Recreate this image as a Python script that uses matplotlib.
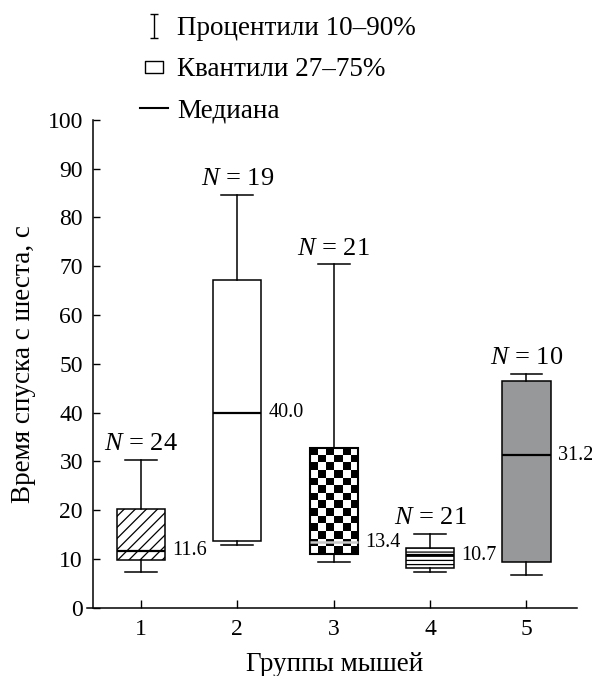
import numpy as np
import matplotlib
matplotlib.use('Agg')
import matplotlib.pyplot as plt
from matplotlib.lines import Line2D
from matplotlib.path import Path

plt.rcParams['font.family'] = ['Liberation Serif', 'DejaVu Serif']
plt.rcParams['mathtext.fontset'] = 'custom'
plt.rcParams['mathtext.rm'] = 'Liberation Serif'
plt.rcParams['mathtext.it'] = 'Liberation Serif:italic'
plt.rcParams['hatch.linewidth'] = 0.9

# data
groups = [1, 2, 3, 4, 5]
p10 = [7.3, 12.9, 9.3, 7.3, 6.6]
q_low = [9.8, 13.7, 10.9, 8.1, 9.3]
medians = [11.6, 40.0, 13.4, 10.7, 31.2]
q_high = [20.2, 67.2, 32.8, 12.2, 46.5]
p90 = [30.3, 84.6, 70.4, 15.1, 47.9]
n_mice = [24, 19, 21, 21, 10]

legend_labels = ['Процентили 10–90%', 'Квантили 27–75%', 'Медиана']

fig = plt.figure(figsize=(5.92, 6.76), dpi=100)
ax = fig.add_axes([0.1566, 0.1013, 0.8174, 0.7212])

stats = []
for i in range(len(groups)):
    stats.append(dict(whislo=p10[i], q1=q_low[i], med=medians[i],
                      q3=q_high[i], whishi=p90[i], fliers=[]))

bp = ax.bxp(stats, positions=groups, widths=0.5, capwidths=0.33,
            patch_artist=True, showfliers=False,
            boxprops=dict(linewidth=1.1, edgecolor='black', facecolor='white'),
            whiskerprops=dict(linewidth=1.1, color='black'),
            capprops=dict(linewidth=1.1, color='black'),
            medianprops=dict(linewidth=1.6, color='black'))

boxes = bp['boxes']
boxes[0].set_hatch('///')
boxes[3].set_hatch('----')
boxes[4].set_facecolor('#97989a')
boxes[2].set_facecolor('none')
boxes[2].set_linewidth(1.5)
bp['medians'][2].set_color('#c8c8c8')
bp['medians'][2].set_linewidth(1.8)

# checkerboard fill for group 3
rows, cols = 14, 6
board = (np.indices((rows, cols)).sum(axis=0) % 2).astype(float)
im = ax.imshow(board, cmap='gray', interpolation='nearest', aspect='auto',
               extent=(groups[2] - 0.25, groups[2] + 0.25, q_low[2], q_high[2]),
               zorder=1.5)
im.set_clip_path(boxes[2])

ax.set_xlim(0.5, 5.52)
ax.set_ylim(0, 100)
ax.set_xticks(groups)
ax.set_yticks(np.arange(0, 101, 10))
ax.tick_params(direction='in', labelsize=17, width=1.0)
ax.tick_params(axis='x', length=6, pad=8)
ax.tick_params(axis='y', length=5, pad=7)
ax.spines['top'].set_visible(False)
ax.spines['right'].set_visible(False)
ax.spines['bottom'].set_bounds(0.44, 5.52)
for s in ['left', 'bottom']:
    ax.spines[s].set_linewidth(1.1)

ax.set_xlabel('Группы мышей', fontsize=19.5, labelpad=9)
ax.set_ylabel('Время спуска с шеста, с', fontsize=19.5, labelpad=8)

# N labels above whiskers and median values
for i, g in enumerate(groups):
    ax.annotate(r'$N$ = %d' % n_mice[i], xy=(g, p90[i]), xytext=(0, 7),
                textcoords='offset points', ha='center', va='baseline', fontsize=19)
    ax.annotate('%.1f' % medians[i], xy=(g + 0.25, medians[i]), xytext=(5, 0),
                textcoords='offset points', ha='left', va='center', fontsize=14.5)

# legend handles
ibeam = Path([(-0.33, 1), (0.33, 1), (0, 1), (0, -1), (-0.33, -1), (0.33, -1)],
             [Path.MOVETO, Path.LINETO, Path.MOVETO, Path.LINETO, Path.MOVETO, Path.LINETO])
rect = Path([(-1, -0.62), (1, -0.62), (1, 0.62), (-1, 0.62), (-1, -0.62)],
            [Path.MOVETO, Path.LINETO, Path.LINETO, Path.LINETO, Path.CLOSEPOLY])
handles = [
    Line2D([], [], linestyle='None', marker=ibeam, markersize=17,
           markeredgecolor='black', markeredgewidth=1.0),
    Line2D([], [], linestyle='None', marker=rect, markersize=13.2,
           markerfacecolor='white', markeredgecolor='black', markeredgewidth=1.0),
    Line2D([], [], color='black', linewidth=1.5),
]
fig.legend(handles, legend_labels, loc='upper left',
           bbox_to_anchor=(140 / 592, 1 - 16 / 676), frameon=False,
           fontsize=19.5, handlelength=1.04, handletextpad=0.32,
           labelspacing=0.6, borderpad=0, borderaxespad=0)

fig.savefig('out.png', dpi=100)
